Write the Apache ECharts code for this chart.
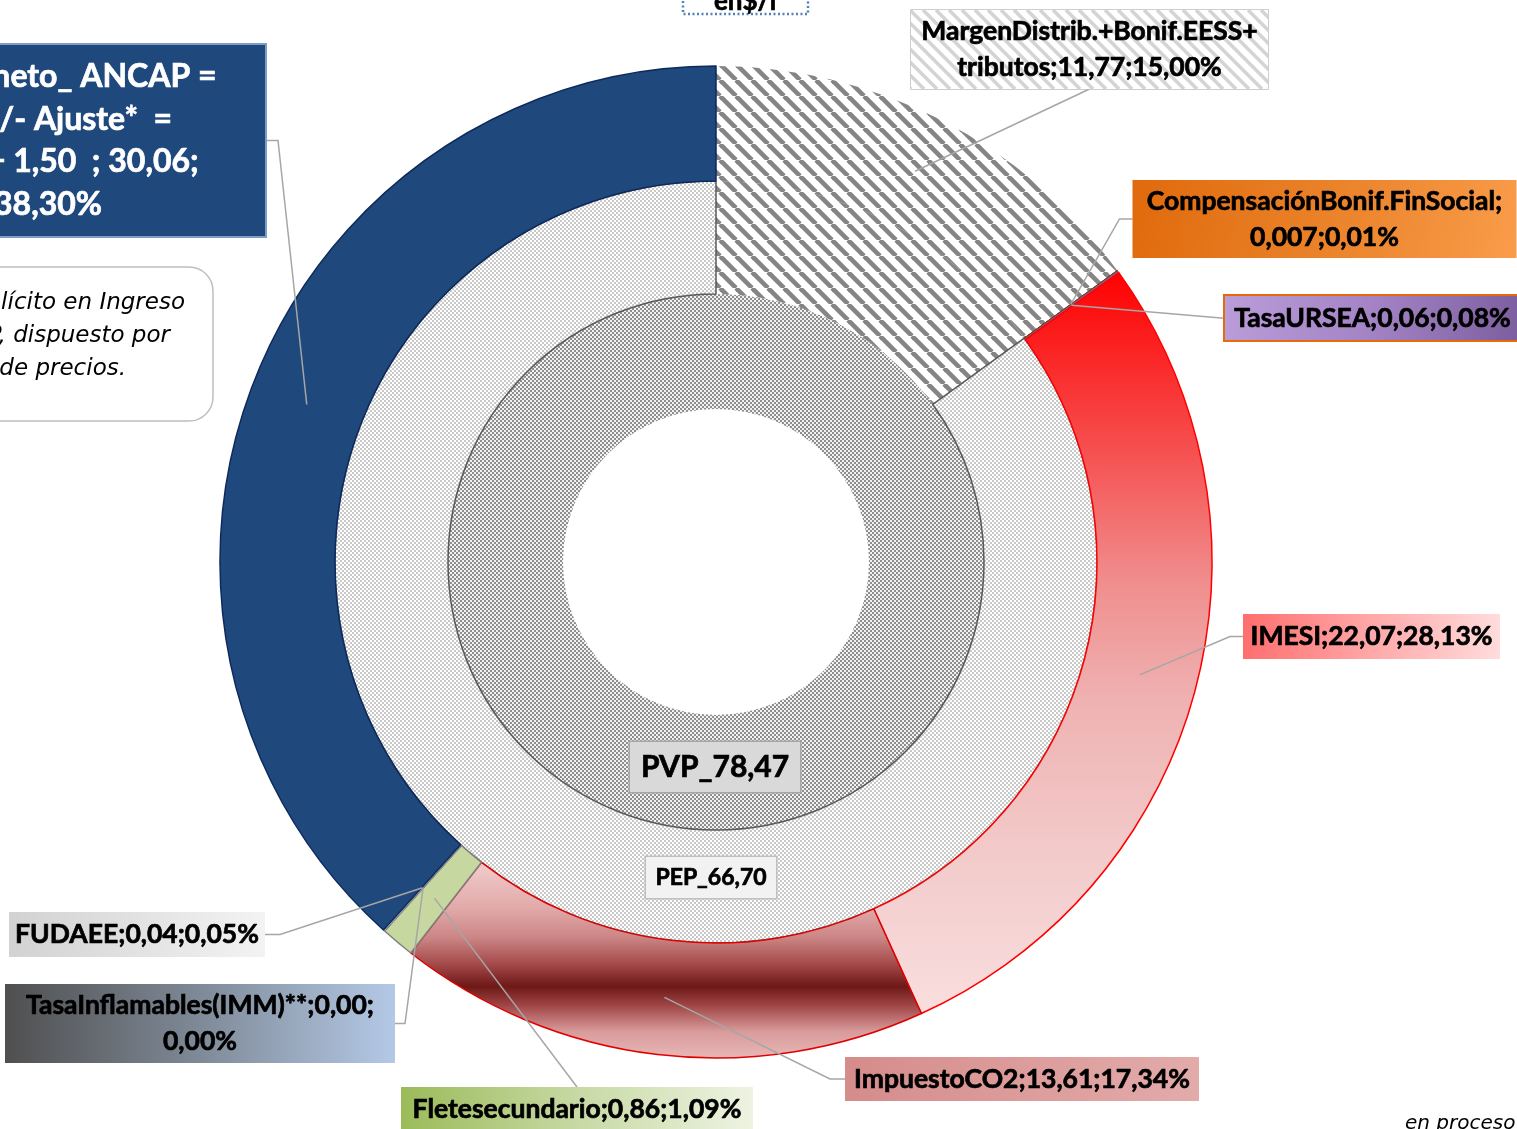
<!DOCTYPE html>
<html><head><meta charset="utf-8">
<script src="https://cdn.jsdelivr.net/npm/echarts@6/dist/echarts.min.js"></script>
<style>html,body{margin:0;padding:0;background:#fff;overflow:hidden}#c{width:1517px;height:1129px}</style>
</head><body><div id="c"></div>
<script>
// ---------- DATA ----------
const outerNames = ['MargenDistrib.+Bonif.EESS+tributos', 'CompensaciónBonif.FinSocial', 'TasaURSEA', 'IMESI', 'ImpuestoCO2', 'Fletesecundario', 'TasaInflamables(IMM)**', 'FUDAEE', 'Ingreso neto_ ANCAP = PPI +/- Ajuste*  = 28,56 + 1,50'];
const outerValues = [11.77, 0.007, 0.06, 22.07, 13.61, 0.86, 0.00, 0.04, 30.06];
const outerPct = [15.00, 0.01, 0.08, 28.13, 17.34, 1.09, 0.00, 0.05, 38.30];
const middleNames = ['MargenDistrib.+Bonif.EESS+tributos', 'PEP'];
const middleValues = [11.77, 66.70];
const innerNames = ['PVP'];
const innerValues = [78.47];
const titleText = 'en$/l';
const noteLines = ['*Ajuste implícito en Ingreso', 'ANCAP, dispuesto por', 'Ajuste de precios.'];
const footText = 'en proceso de';

// ---------- helpers ----------
const fmtV = v => (v > 0 && v < 0.01 ? v.toFixed(3) : v.toFixed(2)).replace('.', ',');
const fmtP = p => p.toFixed(2).replace('.', ',') + '%';
function outerLabel(i) {
  const n = outerNames[i], v = fmtV(outerValues[i]), p = fmtP(outerPct[i]);
  switch (i) {
    case 0: return n.replace('EESS+', 'EESS+\n') + ';' + v + ';' + p;
    case 1: return n + ';\n' + v + ';' + p;
    case 6: return n + ';' + v + ';\n' + p;
    case 8: return n.replace(/= /g, '=\n') + '  ; ' + v + ';\n' + p;
    default: return n + ';' + v + ';' + p;
  }
}
function checker(c1, c2, cell) {
  const cv = document.createElement('canvas'); cv.width = cv.height = cell * 2;
  const g = cv.getContext('2d'); g.fillStyle = c2; g.fillRect(0, 0, cell * 2, cell * 2);
  g.fillStyle = c1; g.fillRect(0, 0, cell, cell); g.fillRect(cell, cell, cell, cell);
  return cv;
}
function stripes(w, h, period, lw, color, bg) {
  const cv = document.createElement('canvas'); cv.width = w; cv.height = h;
  const g = cv.getContext('2d');
  if (bg) { g.fillStyle = bg; g.fillRect(0, 0, w, h); }
  g.strokeStyle = color; g.lineWidth = lw;
  for (let k = -h - period; k < w + h + period; k += period) { g.beginPath(); g.moveTo(k, 0); g.lineTo(k + h, h); g.stroke(); }
  return cv;
}
const hatch = { image: stripes(16, 16, 16, 4.6, '#858585', '#ffffff'), repeat: 'repeat' };
const pepPat = { image: checker('#c8c8c8', '#ffffff', 2), repeat: 'repeat' };
const pvpPat = { image: checker('#8e8e8e', '#f2f2f2', 2), repeat: 'repeat' };
const lin = (x, y, x2, y2, stops, global) => ({ type: 'linear', x, y, x2, y2, global: !!global, colorStops: stops.map((c, i) => ({ offset: Array.isArray(c) ? c[0] : i / (stops.length - 1), color: Array.isArray(c) ? c[1] : c })) });

const CX = 716, CY = 562, R_IN = 381, R_OUT = 496;
const FONT = 'Lato';

// slice styles (outer)
const outerSlice = [
  { color: hatch, borderWidth: 0 },
  { color: '#e46c0a', borderColor: '#7a3a1a', borderWidth: 1 },
  { color: '#8064a2', borderColor: '#7a3a1a', borderWidth: 1 },
  { color: lin(0, 270, 0, 1015, [[0, '#ff0000'], [0.22, '#f74848'], [0.42, '#f08e8e'], [0.58, '#efb2b2'], [0.8, '#f3cccc'], [1, '#f9dede']], true), borderColor: '#ff0000', borderWidth: 1.5 },
  { color: lin(0, 870, 0, 1058, [[0, '#efc6c6'], [0.2, '#e2aaaa'], [0.36, '#cc8585'], [0.5, '#a44a4a'], [0.62, '#6e1818'], [0.72, '#a04545'], [0.86, '#d99b9b'], [1, '#e8b7b7']], true), borderColor: '#e00000', borderWidth: 1.5 },
  { color: '#c6d8a0', borderColor: '#808080', borderWidth: 1.5 },
  { color: '#7f7f7f', borderColor: '#808080', borderWidth: 1 },
  { color: '#d9d9d9', borderColor: '#808080', borderWidth: 1 },
  { color: '#1f497d', borderColor: '#0e2a5c', borderWidth: 1.5 }
];
// label boxes (outer): centre, size, line height, leader side & stub
const outerBox = [
  { cx: 1089.5, cy: 49.5, w: 357, h: 79, lh: 36, side: 'bottom', stub: 0, bg: { image: stripes(357, 79, 13, 3.5, '#d4d4d4', '#ffffff') }, bc: '#bfbfbf', bw: 1.5 },
  { cx: 1324.5, cy: 219, w: 384, h: 78, lh: 36, side: 'left', stub: 13, bg: lin(0, 0, 1, 1, ['#e06a0c', '#ea8229', '#f99c4a']) },
  { cx: 1372.5, cy: 318, w: 295, h: 44, lh: 36, side: 'left', stub: 4, bg: lin(0, 0, 1, 1, ['#bb9dd9', '#a383c4', '#7b5d9e']), bc: '#e46c0a', bw: 2 },
  { cx: 1371.5, cy: 636.5, w: 257, h: 45, lh: 36, side: 'left', stub: 13, bg: lin(0, 0, 1, 0, ['#ff6e6e', '#ffa8a8', '#ffdcdc']) },
  { cx: 1022, cy: 1079, w: 354, h: 44, lh: 36, side: 'left', stub: 15, bg: lin(0, 0, 1, 0, ['#d58c8b', '#dc9c9b', '#e2abaa']) },
  { cx: 577, cy: 1109, w: 352, h: 44, lh: 36, side: 'top', stub: 0, bg: lin(0, 0, 1, 0, ['#9bbb59', '#c7d9a4', '#eef3e2']) },
  { cx: 200, cy: 1023.5, w: 390, h: 79, lh: 36, side: 'right', stub: 10, bg: lin(0, 0, 1, 0, ['#4f4f4f', '#7f8a98', '#b4c9e6']) },
  { cx: 137, cy: 934.5, w: 256, h: 45, lh: 36, side: 'right', stub: 15, bg: lin(0, 0, 1, 0, ['#d2d2d2', '#e2e2e2', '#f3f3f3']) },
  { cx: 48, cy: 140.5, w: 434, h: 191, lh: 42.5, side: 'right', stub: 13, bg: '#1f497d', bc: '#7f9cc4', bw: 2, color: '#ffffff', fs: 32 }
];
const innerBox = { cx: 715, cy: 767, w: 170, h: 50, lh: 36, bg: '#d9d9d9', bc: '#a6a6a6', bw: 1.5, fs: 30 };
const pepBox = { cx: 711, cy: 877.5, w: 130, h: 41, lh: 30, bg: '#f2f2f2', bc: '#bfbfbf', bw: 1.5, fs: 23 };

function labelStyle(b, text) {
  const n = text.split('\n').length;
  const pv = (b.h - n * b.lh) / 2;
  const col = b.color || '#000';
  return {
    show: true, fontFamily: FONT, fontWeight: 'bold', fontSize: b.fs || 26.5, lineHeight: b.lh,
    color: col, textBorderColor: col, textBorderWidth: 0.7,
    width: b.w, padding: [pv, 0, pv, 0], align: 'center',
    backgroundColor: b.bg, borderColor: b.bc || 'transparent', borderWidth: b.bw || 0,
    formatter: text
  };
}

// visible outer ring (no labels)
const outerData = outerNames.map((n, i) => ({
  name: n, value: outerValues[i], itemStyle: outerSlice[i], label: { show: false }
}));
// transparent overlay of the same ring that carries the labels + leader lines on top
const outerLabelData = outerNames.map((n, i) => ({
  name: n, value: outerValues[i],
  itemStyle: { color: 'rgba(0,0,0,0)', borderWidth: 0 },
  label: labelStyle(outerBox[i], outerLabel(i))
}));
const middleData = middleNames.map((n, i) => ({
  name: n, value: middleValues[i],
  itemStyle: i === 0 ? { color: hatch, borderWidth: 0 } : { color: pepPat, borderColor: '#595959', borderWidth: 1.5 },
  label: i === 0 ? { show: false } : labelStyle(pepBox, n + '_' + fmtV(middleValues[i]))
}));
const innerData = innerNames.map((n, i) => ({
  name: n, value: innerValues[i],
  itemStyle: { color: pvpPat, borderWidth: 0 },
  label: labelStyle(innerBox, n + '_' + fmtV(innerValues[i]))
}));

const place = boxes => p => {
  const b = Array.isArray(boxes) ? boxes[p.dataIndex] : boxes;
  return { x: b.cx, y: b.cy, align: 'center', verticalAlign: 'middle' };
};
// outer labels: move box, and run leader from the slice's mid-radius to the box edge
const placeOuter = p => {
  const b = outerBox[p.dataIndex];
  const res = { x: b.cx, y: b.cy, align: 'center', verticalAlign: 'middle' };
  const pts = p.labelLinePoints;
  if (pts && pts[0]) {
    const dx = pts[0][0] - CX, dy = pts[0][1] - CY, r = Math.hypot(dx, dy) || 1;
    const k = ((R_IN + R_OUT) / 2) / r;
    const start = [CX + dx * k, CY + dy * k];
    let anchor, bend;
    if (b.side === 'left') { anchor = [b.cx - b.w / 2, b.cy]; bend = [anchor[0] - b.stub, b.cy]; }
    else if (b.side === 'right') { anchor = [b.cx + b.w / 2, b.cy]; bend = [anchor[0] + b.stub, b.cy]; }
    else if (b.side === 'top') { anchor = [b.cx, b.cy - b.h / 2]; bend = anchor.slice(); }
    else { anchor = [b.cx, b.cy + b.h / 2]; bend = anchor.slice(); }
    res.labelLinePoints = [start, bend, anchor];
  }
  return res;
};

const ring = { type: 'pie', center: [CX, CY], startAngle: 90, clockwise: true, silent: true, animation: false };
const chart = echarts.init(document.getElementById('c'), null, { renderer: 'canvas' });
chart.setOption({
  backgroundColor: '#ffffff',
  animation: false,
  series: [
    Object.assign({}, ring, {
      radius: [153, 268], label: { position: 'inside' }, labelLine: { show: false },
      labelLayout: place(innerBox), data: innerData, z: 1
    }),
    Object.assign({}, ring, {
      radius: [268, R_IN], label: { position: 'inside' }, labelLine: { show: false },
      labelLayout: place(pepBox), data: middleData, z: 2
    }),
    Object.assign({}, ring, {
      radius: [R_IN, R_OUT], label: { show: false }, labelLine: { show: false },
      data: outerData, z: 3
    }),
    Object.assign({}, ring, {
      radius: [R_IN, R_OUT], avoidLabelOverlap: false, minShowLabelAngle: 0,
      label: { position: 'outside' },
      labelLine: { show: true, length: 10, length2: 14, lineStyle: { color: '#a6a6a6', width: 1.5 } },
      labelLayout: placeOuter, data: outerLabelData, z: 5
    })
  ],
  graphic: [
    { type: 'rect', shape: { x: -40, y: 267, width: 253, height: 154, r: 24 }, style: { fill: '#ffffff', stroke: '#bfbfbf', lineWidth: 1.5 }, z: 10 },
    { type: 'text', x: 185, y: 303, style: { text: noteLines[0], font: 'italic 23px "DejaVu Sans"', fill: '#000', align: 'right', verticalAlign: 'middle' }, z: 11 },
    { type: 'text', x: 170, y: 336, style: { text: noteLines[1], font: 'italic 23px "DejaVu Sans"', fill: '#000', align: 'right', verticalAlign: 'middle' }, z: 11 },
    { type: 'text', x: 126, y: 369, style: { text: noteLines[2], font: 'italic 23px "DejaVu Sans"', fill: '#000', align: 'right', verticalAlign: 'middle' }, z: 11 },
    { type: 'rect', shape: { x: 683, y: -40, width: 125, height: 54 }, style: { fill: 'none', stroke: '#4f81bd', lineWidth: 2.5, lineDash: [2, 2.5] }, z: 10 },
    { type: 'text', x: 745, y: 15, style: { text: titleText, font: 'bold 26px Lato', fill: '#000', stroke: '#000', lineWidth: 0.7, align: 'center', verticalAlign: 'bottom' }, z: 11 },
    { type: 'text', x: 1405, y: 1114, style: { text: footText, font: 'italic 20px "DejaVu Sans"', fill: '#000', align: 'left', verticalAlign: 'top' }, z: 11 }
  ]
});
</script></body></html>
